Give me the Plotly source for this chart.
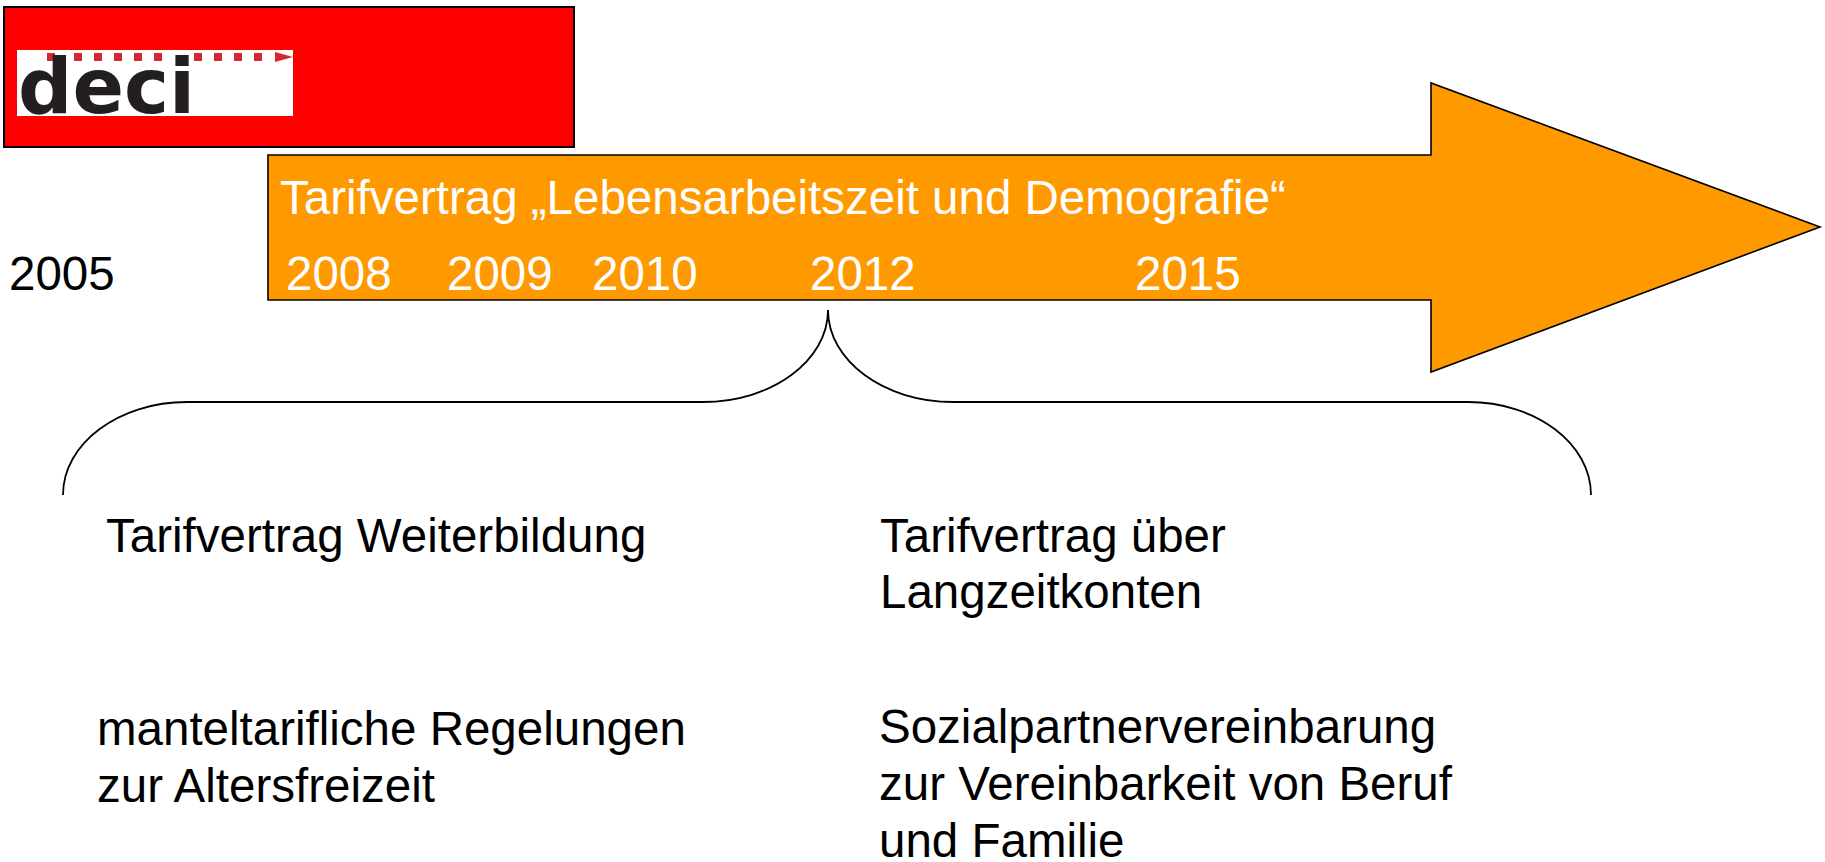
import plotly.graph_objects as go

# ---- content ----
title_text = "Tarifvertrag \u201eLebensarbeitszeit und Demografie\u201c"
years_in_arrow = ["2008", "2009", "2010", "2012", "2015"]
year_before = "2005"
left_block_1 = ["Tarifvertrag Weiterbildung"]
right_block_1 = ["Tarifvertrag \u00fcber", "Langzeitkonten"]
left_block_2 = ["manteltarifliche Regelungen", "zur Altersfreizeit"]
right_block_2 = ["Sozialpartnervereinbarung", "zur Vereinbarkeit von Beruf", "und Familie"]
logo_text = "deci"

# ---- layout (pixel coordinates on a 1825 x 862 canvas) ----
W, H = 1825, 862
year_x = [284, 445, 590, 808, 1133]
year_y = 273.5
FONT = "Liberation Sans, Arial, sans-serif"
FS = 47.5
ORANGE = "#FF9900"
RED = "#FF0000"

fig = go.Figure()

shapes = []
# red header box
shapes.append(dict(type="rect", x0=4, y0=7, x1=574, y1=147,
                   fillcolor=RED, line=dict(color="black", width=2), layer="below"))
# logo white box
shapes.append(dict(type="rect", x0=17, y0=50, x1=293, y1=116,
                   fillcolor="white", line=dict(width=0), layer="below"))
# logo triangle
shapes.append(dict(type="path", path="M275,52 L293,57 L275,62 Z",
                   fillcolor="#D9262E", line=dict(width=0)))
# orange arrow
arrow = "M268,155 L1431,155 L1431,83 L1820,227 L1431,372 L1431,300 L268,300 Z"
shapes.append(dict(type="path", path=arrow, fillcolor=ORANGE,
                   line=dict(color="black", width=1.6), layer="below"))
# brace
k = 0.5523
tipx, tipy, hy, endy = 828, 310, 402, 495
lx_in, lx_out, lx_end = 703, 187, 63
rx_in, rx_out, rx_end = 953, 1468, 1591
left_brace = (f"M{tipx},{tipy} C{tipx},{tipy + k*(hy-tipy)} {lx_in + k*(tipx-lx_in)},{hy} {lx_in},{hy} "
              f"L{lx_out},{hy} C{lx_out - k*(lx_out-lx_end)},{hy} {lx_end},{endy - k*(endy-hy)} {lx_end},{endy}")
right_brace = (f"M{tipx},{tipy} C{tipx},{tipy + k*(hy-tipy)} {rx_in - k*(rx_in-tipx)},{hy} {rx_in},{hy} "
               f"L{rx_out},{hy} C{rx_out + k*(rx_end-rx_out)},{hy} {rx_end},{endy - k*(endy-hy)} {rx_end},{endy}")
for p in (left_brace, right_brace):
    shapes.append(dict(type="path", path=p, line=dict(color="black", width=1.8)))

# logo dotted line (squares)
sq_x = [51, 78, 98, 118, 138, 158, 198, 218, 238, 258]
fig.add_trace(go.Scatter(x=sq_x, y=[57]*len(sq_x), mode="markers",
                         marker=dict(symbol="square", size=8, color="#D9262E"),
                         hoverinfo="skip", showlegend=False))

annotations = []
def txt(s, x, y, color="black", size=FS, family=FONT):
    annotations.append(dict(text=s, x=x, y=y, xref="x", yref="y", xanchor="left",
                            yanchor="middle", showarrow=False,
                            font=dict(family=family, size=size, color=color)))

txt(logo_text, 16, 86, color="#231F20", size=76, family="DejaVu Sans, sans-serif")
annotations[-1]["font"]["weight"] = "bold"
txt(title_text, 278, 197.5, color="white")
for s, x in zip(years_in_arrow, year_x):
    txt(s, x, year_y, color="white")
txt(year_before, 7, year_y)
txt(left_block_1[0], 104, 535)
for i, s in enumerate(right_block_1):
    txt(s, 878, 535 + i*56.5)
for i, s in enumerate(left_block_2):
    txt(s, 95, 728 + i*57)
for i, s in enumerate(right_block_2):
    txt(s, 877, 726 + i*57)

fig.update_layout(
    width=W, height=H, margin=dict(l=0, r=0, t=0, b=0),
    paper_bgcolor="white", plot_bgcolor="white",
    xaxis=dict(range=[0, W], visible=False, fixedrange=True),
    yaxis=dict(range=[H, 0], visible=False, fixedrange=True),
    shapes=shapes, annotations=annotations, showlegend=False,
)
fig.write_html("out.html", config={"displayModeBar": False},
               post_script="document.body.style.margin='0';document.body.style.overflow='hidden';")
